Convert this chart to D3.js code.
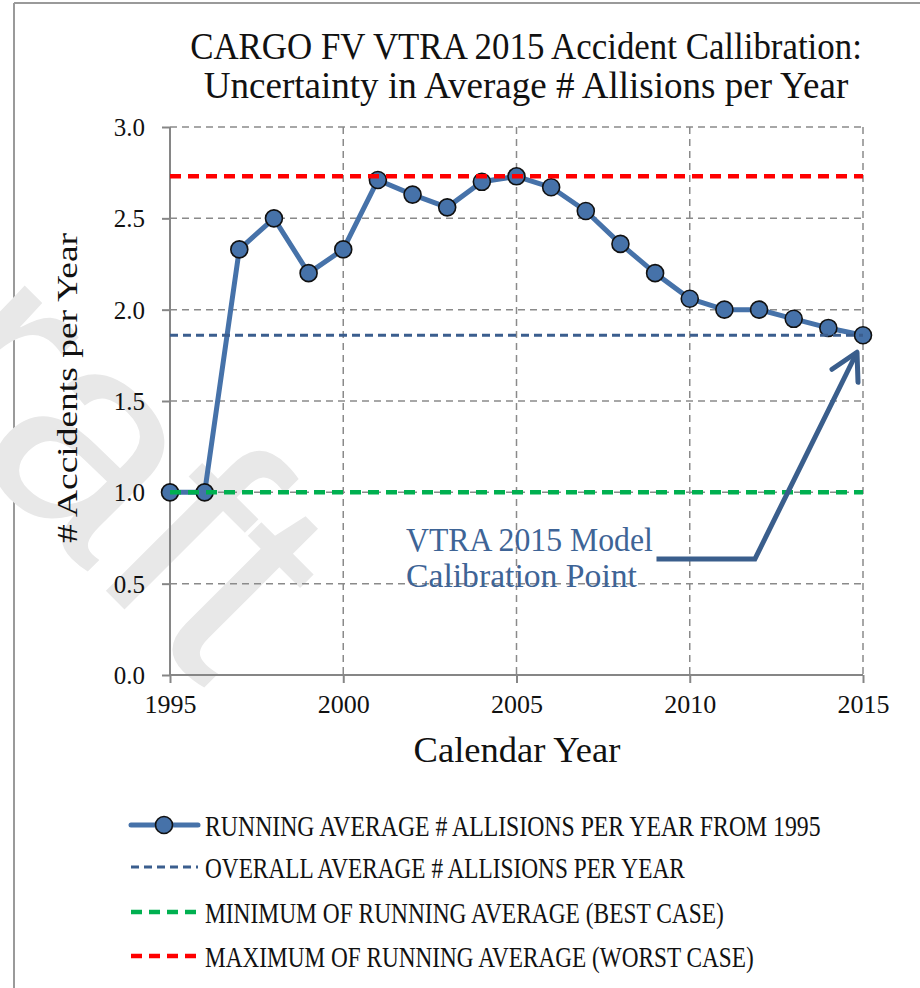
<!DOCTYPE html>
<html><head><meta charset="utf-8">
<script src="https://cdn.jsdelivr.net/npm/d3@7"></script>
<style>
html,body{margin:0;padding:0;background:#fff;}
svg{display:block;}
text{font-family:"Liberation Serif","DejaVu Serif",serif;}
</style></head>
<body>
<script>
// ---- data ----
const years = [1995,1996,1997,1998,1999,2000,2001,2002,2003,2004,2005,2006,2007,2008,2009,2010,2011,2012,2013,2014,2015];
const runningAvg = [1.00,1.00,2.33,2.50,2.20,2.33,2.71,2.63,2.56,2.70,2.73,2.67,2.54,2.36,2.20,2.06,2.00,2.00,1.95,1.90,1.86];
const overallAvg = [1.86];
const minAvg = [1.00];
const maxAvg = [2.73];
const xTicks = [1995,2000,2005,2010,2015];
const yTicks = [0.0,0.5,1.0,1.5,2.0,2.5,3.0];
const titleLines = ["CARGO FV VTRA 2015 Accident Callibration:","Uncertainty in Average # Allisions per Year"];
const legendLabels = ["RUNNING AVERAGE # ALLISIONS PER YEAR FROM 1995","OVERALL AVERAGE # ALLISIONS PER YEAR","MINIMUM OF RUNNING AVERAGE (BEST CASE)","MAXIMUM OF RUNNING AVERAGE (WORST CASE)"];
const annotationLines = ["VTRA 2015 Model","Calibration Point"];

const W = 920, H = 988;
const svg = d3.select("body").append("svg").attr("width",W).attr("height",H);

// place a horizontally condensed text: anchor point (tx,ty), target width
function fitText(g, str, tx, ty, size, target, anchor, color){
  const t = g.append("text").text(str).style("font-size",size+"px").attr("fill",color||"#111")
    .attr("text-anchor",anchor||"start");
  const w = t.node().getComputedTextLength();
  const s = target / w;
  t.attr("transform",`translate(${tx},${ty}) scale(${s},1)`);
  return t;
}

// frame
svg.append("line").attr("x1",14).attr("y1",3).attr("x2",W).attr("y2",3).attr("stroke","#9a9a9a").attr("stroke-width",2);
svg.append("line").attr("x1",14).attr("y1",3).attr("x2",14).attr("y2",H).attr("stroke","#9a9a9a").attr("stroke-width",2);

// watermark
svg.append("text").text("Draft")
  .attr("transform","translate(205,690) rotate(45)")
  .attr("text-anchor","end")
  .style("font-family","'Liberation Sans',Arial,sans-serif")
  .style("font-size","300px").attr("fill","#e8e8e8");

const x = d3.scaleLinear().domain([1995,2015]).range([170,863]);
const y = d3.scaleLinear().domain([0,3]).range([675,127]);

const gridColor = "#8a8a8a";
svg.append("g").selectAll("line").data(yTicks.filter(d=>d>0)).join("line")
  .attr("x1",x(1995)).attr("x2",x(2015)).attr("y1",d=>y(d)).attr("y2",d=>y(d))
  .attr("stroke",gridColor).attr("stroke-width",1.5).attr("stroke-dasharray","7,5");
svg.append("g").selectAll("line").data(xTicks.filter(d=>d>1995)).join("line")
  .attr("x1",d=>x(d)).attr("x2",d=>x(d)).attr("y1",y(3)).attr("y2",y(0))
  .attr("stroke",gridColor).attr("stroke-width",1.5).attr("stroke-dasharray","7,5");

// axes
const yAxis = svg.append("g").attr("transform",`translate(${x(1995)},0)`)
  .call(d3.axisLeft(y).tickValues(yTicks).tickFormat(d3.format(".1f")).tickSize(8).tickPadding(17));
const xAxis = svg.append("g").attr("transform",`translate(0,${y(0)})`)
  .call(d3.axisBottom(x).tickValues(xTicks).tickFormat(d3.format("d")).tickSize(8).tickPadding(12));
[yAxis,xAxis].forEach(a=>{
  a.select(".domain").attr("stroke","#868686").attr("stroke-width",2);
  a.selectAll(".tick line").attr("stroke","#868686").attr("stroke-width",2);
});
yAxis.selectAll(".tick text").style("font-size","25px").attr("fill","#111").attr("dy","0.34em");
xAxis.selectAll(".tick text").style("font-size","26px").attr("fill","#111");
yAxis.select(".domain").attr("d",`M0,${y(3)}V${y(0)}`);
xAxis.select(".domain").attr("d",`M${x(1995)},0H${x(2015)}`);

// data series
const blue = "#4672A9";
const line = d3.line().x((d,i)=>x(years[i])).y(d=>y(d));
svg.append("path").datum(runningAvg).attr("d",line).attr("fill","none")
  .attr("stroke",blue).attr("stroke-width",5).attr("stroke-linejoin","round");
svg.append("g").selectAll("circle").data(runningAvg).join("circle")
  .attr("cx",(d,i)=>x(years[i])).attr("cy",d=>y(d)).attr("r",8.5)
  .attr("fill",blue).attr("stroke","#111").attr("stroke-width",1.6);

// reference lines
const refs = [
  {v:overallAvg[0], color:"#3B5E8E", w:3, dash:"8,5"},
  {v:minAvg[0], color:"#00B050", w:4.5, dash:"11,7"},
  {v:maxAvg[0], color:"#FF0000", w:4.5, dash:"11,7"}
];
svg.append("g").selectAll("line").data(refs).join("line")
  .attr("x1",x(1995)).attr("x2",x(2015)).attr("y1",d=>y(d.v)).attr("y2",d=>y(d.v))
  .attr("stroke",d=>d.color).attr("stroke-width",d=>d.w).attr("stroke-dasharray",d=>d.dash);

// annotation
const annColor = "#3E6496";
fitText(svg, annotationLines[0], 406, 551, 34, 247, "start", annColor);
fitText(svg, annotationLines[1], 406, 587, 34, 231, "start", annColor);
const arrowColor = "#3A5E8C";
const px = x(years[years.length-1]), py = y(runningAvg[runningAvg.length-1]);
const elbowX = x(2011.88), elbowY = y(0.635), startX = x(2009.04);
const tipX = px-6, tipY = py+17;
svg.append("path").attr("d",`M${startX},${elbowY}H${elbowX}L${tipX},${tipY}`)
  .attr("fill","none").attr("stroke",arrowColor).attr("stroke-width",5).attr("stroke-linejoin","miter");
svg.append("path").attr("d",`M${tipX-25},${tipY+17}L${tipX},${tipY}L${tipX+1},${tipY+30}`)
  .attr("fill","none").attr("stroke",arrowColor).attr("stroke-width",5).attr("stroke-linecap","round").attr("stroke-linejoin","round");

// titles
const titleWidths = [672,645];
const titleY = [59,98];
titleLines.forEach((t,i)=> fitText(svg, t, 526, titleY[i], 37, titleWidths[i], "middle"));
fitText(svg, "Calendar Year", 517, 762, 36, 207, "middle");
svg.append("text").attr("transform","translate(77,388) rotate(-90)")
  .attr("text-anchor","middle").text("# Accidents per Year")
  .style("font-size","30px").attr("fill","#111").attr("textLength",310).attr("lengthAdjust","spacingAndGlyphs");

// legend
const legendY = [825,867,912,956];
const legendW = [616,480,519,549];
const legendStyles = [
  {color:blue, w:5, dash:null, marker:true},
  {color:"#3B5E8E", w:3, dash:"8,5"},
  {color:"#00B050", w:4.5, dash:"11,7"},
  {color:"#FF0000", w:4.5, dash:"11,7"}
];
const lg = svg.append("g");
legendLabels.forEach((lab,i)=>{
  const s = legendStyles[i];
  lg.append("line").attr("x1",131).attr("x2",198).attr("y1",legendY[i]).attr("y2",legendY[i])
    .attr("stroke",s.color).attr("stroke-width",s.w).attr("stroke-dasharray",s.dash)
    .attr("stroke-linecap",s.marker?"round":"butt");
  if(s.marker){
    lg.append("circle").attr("cx",164).attr("cy",legendY[i]).attr("r",8.5)
      .attr("fill",blue).attr("stroke","#111").attr("stroke-width",1.6);
  }
  fitText(lg, lab, 205, legendY[i] + 10.5, 30, legendW[i], "start");
});
</script>
</body></html>
